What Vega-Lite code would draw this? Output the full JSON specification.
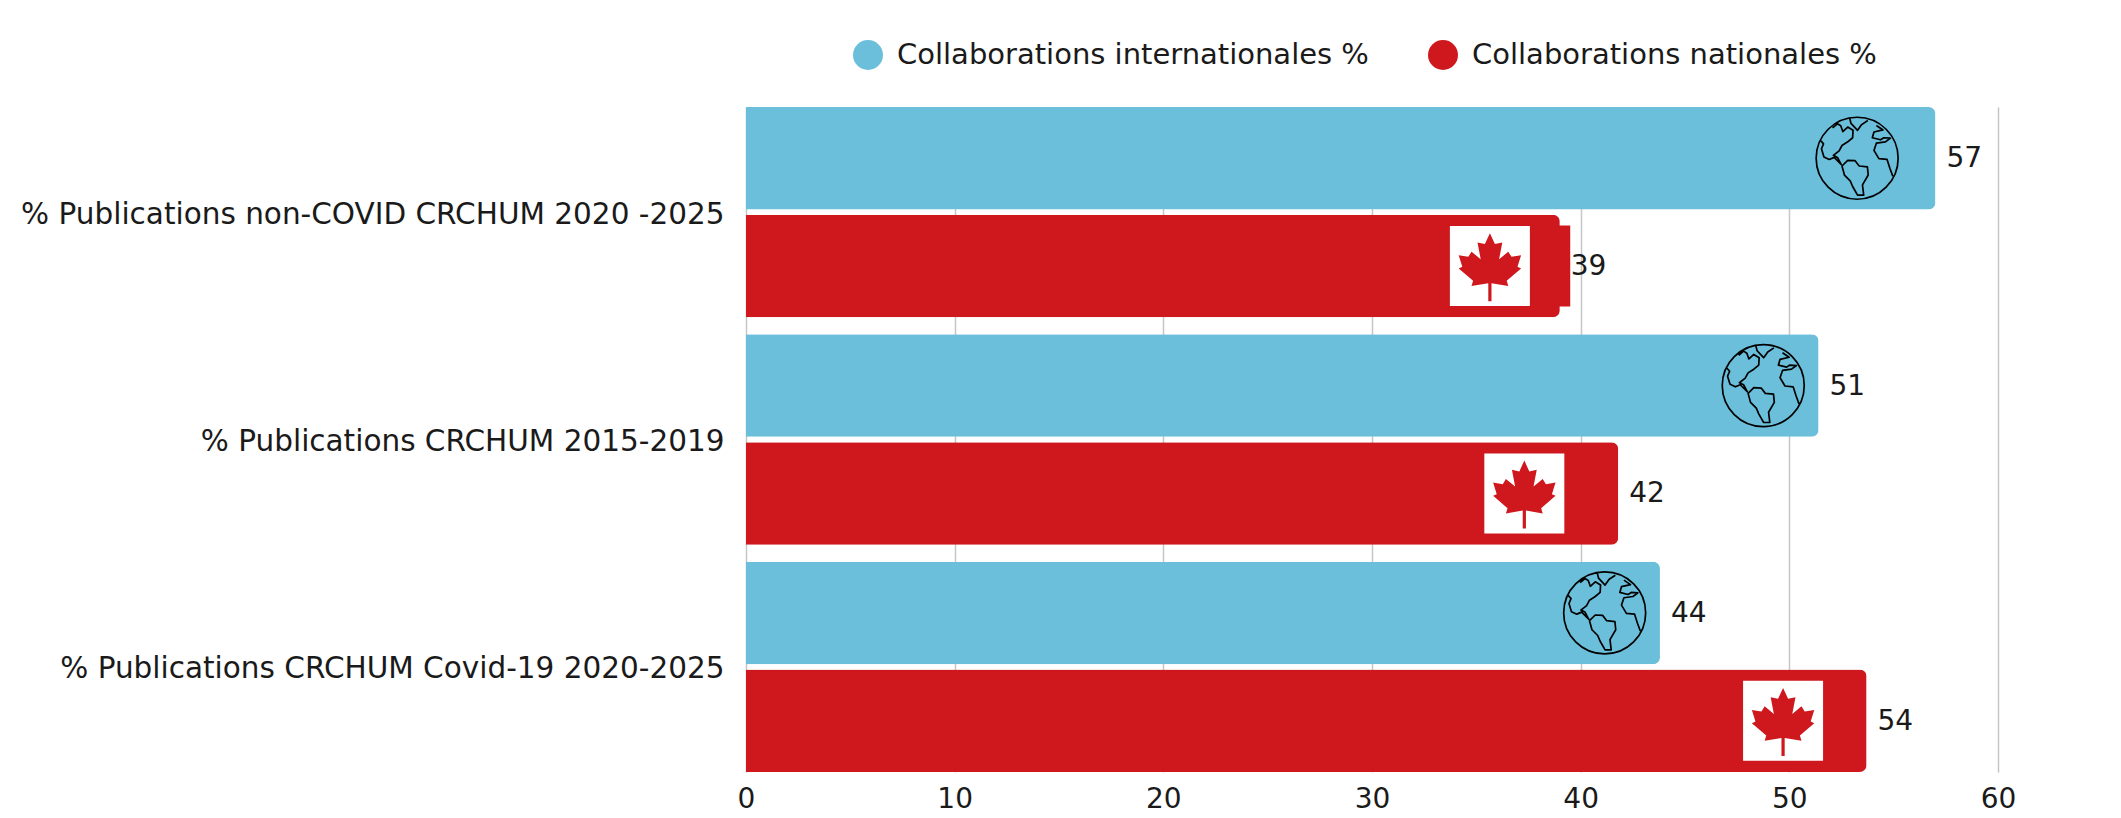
{
"$schema":"https://vega.github.io/schema/vega-lite/v6.json",
"autosize":"none",
"padding":{"left":746,"top":107,"right":123,"bottom":46},
"width":1252,
"height":665,
"background":"white",
"config":{"view":{"stroke":null},"font":"DejaVu Sans","text":{"font":"DejaVu Sans"}},
"data":{"values":[
{"category":"% Publications non-COVID CRCHUM 2020 -2025","series":"Collaborations internationales %","value":57,"label":"57","icon":53.25},
{"category":"% Publications non-COVID CRCHUM 2020 -2025","series":"Collaborations nationales %","value":39,"label":"39","icon":35.65,"extent":39.5},
{"category":"% Publications CRCHUM 2015-2019","series":"Collaborations internationales %","value":51.4,"label":"51","icon":48.75},
{"category":"% Publications CRCHUM 2015-2019","series":"Collaborations nationales %","value":41.8,"label":"42","icon":37.3},
{"category":"% Publications CRCHUM Covid-19 2020-2025","series":"Collaborations internationales %","value":43.8,"label":"44","icon":41.15},
{"category":"% Publications CRCHUM Covid-19 2020-2025","series":"Collaborations nationales %","value":53.7,"label":"54","icon":49.7}
]},
"encoding":{
"y":{"field":"category","type":"nominal","title":null,
"sort":["% Publications non-COVID CRCHUM 2020 -2025","% Publications CRCHUM 2015-2019","% Publications CRCHUM Covid-19 2020-2025"],
"scale":{"paddingInner":0.075,"paddingOuter":0},
"axis":{"domain":false,"ticks":false,"labelFontSize":29.5,"labelFont":"DejaVu Sans","labelFontWeight":400,"labelColor":"#1a1a1a","labelPadding":22,"labelLimit":800,"labelOffset":2.5}},
"yOffset":{"field":"series","type":"nominal","sort":["Collaborations internationales %","Collaborations nationales %"],"scale":{"paddingInner":0.05,"paddingOuter":0}}
},
"layer":[
{"transform":[{"filter":"isValid(datum.extent)"}],
"mark":{"type":"bar","color":"#CE181E","size":81},
"encoding":{"x":{"field":"extent","type":"quantitative"}}},
{"mark":{"type":"bar","cornerRadiusEnd":7},
"encoding":{
"x":{"field":"value","type":"quantitative","title":null,
"scale":{"domain":[0,60],"nice":false},
"axis":{"values":[0,10,20,30,40,50,60],"grid":true,"gridColor":"#c6c6c6","gridWidth":1.5,"domain":false,"ticks":false,"labelFontSize":28,"labelFont":"DejaVu Sans","labelFontWeight":400,"labelColor":"#1a1a1a","labelPadding":13,"labelFlush":false}},
"color":{"field":"series","type":"nominal","title":null,
"scale":{"domain":["Collaborations internationales %","Collaborations nationales %"],"range":["#6BBFDB","#CE181E"]},
"legend":{"orient":"none","legendX":107,"legendY":-67,"direction":"horizontal","columns":2,"columnPadding":59,"symbolType":"circle","symbolSize":900,"symbolStrokeWidth":0,"labelFontSize":29,"labelFont":"DejaVu Sans","labelFontWeight":400,"labelColor":"#1a1a1a","labelOffset":14,"labelLimit":700,"padding":0}}
}},
{"mark":{"type":"text","align":"left","baseline":"middle","dx":11,"dy":1,"fontSize":28,"font":"DejaVu Sans","fontWeight":400,"color":"#1a1a1a"},
"encoding":{"x":{"field":"value","type":"quantitative"},"text":{"field":"label","type":"nominal"}}},
{"transform":[{"filter":"datum.series==='Collaborations internationales %'"}],
"mark":{"type":"point","filled":false,"size":6724,"yOffset":1.5,"stroke":"#000000","strokeWidth":1.7,"strokeJoin":"round","opacity":1,
"shape":"M-1,0C-1,-.5523,-.5523,-1,0,-1C.5523,-1,1,-.5523,1,0C1,.5523,.5523,1,0,1C-.5523,1,-1,.5523,-1,0ZM-.6,-.74L-.48,-.84L-.4,-.79L-.35,-.65L-.23,-.76L-.1,-.68L-.11,-.5L-.23,-.4L-.37,-.31L-.44,-.18L-.58,-.07L-.48,-.02L-.39,.15L-.56,-.02L-.68,.03L-.81,-.03L-.87,-.23L-.82,-.35L-.9,-.44M-.37,.19L-.23,.05L-.05,.06L.05,.19L.25,.21L.27,.41L.13,.65L.16,.9L.01,.9L-.11,.69L-.17,.55L-.31,.41ZM-.18,-.97L-.15,-.85L.01,-.68L.11,-.82L.26,-.92M.87,.44L.8,.25L.73,.03L.53,.01L.41,-.19L.47,-.37L.69,-.4L.81,-.49L.65,-.5L.57,-.45L.37,-.5L.41,-.64L.63,-.69L.47,-.8"},
"encoding":{"x":{"field":"icon","type":"quantitative"}}},
{"transform":[{"filter":"datum.series==='Collaborations nationales %'"}],
"mark":{"type":"point","filled":true,"shape":"square","size":6400,"color":"#ffffff","opacity":1},
"encoding":{"x":{"field":"icon","type":"quantitative"}}},
{"transform":[{"filter":"datum.series==='Collaborations nationales %'"}],
"mark":{"type":"point","filled":true,"size":6400,"color":"#CE181E","opacity":1,
"shape":"M0,-.82L.125,-.55L.31,-.59L.23,-.17L.46,-.36L.54,-.23L.78,-.27L.69,.02L.78,.06L.42,.37L.46,.5L.04,.43L.04,.88L-.04,.88L-.04,.43L-.46,.5L-.42,.37L-.78,.06L-.69,.02L-.78,-.27L-.54,-.23L-.46,-.36L-.23,-.17L-.31,-.59L-.125,-.55Z"},
"encoding":{"x":{"field":"icon","type":"quantitative"}}}
]
}
